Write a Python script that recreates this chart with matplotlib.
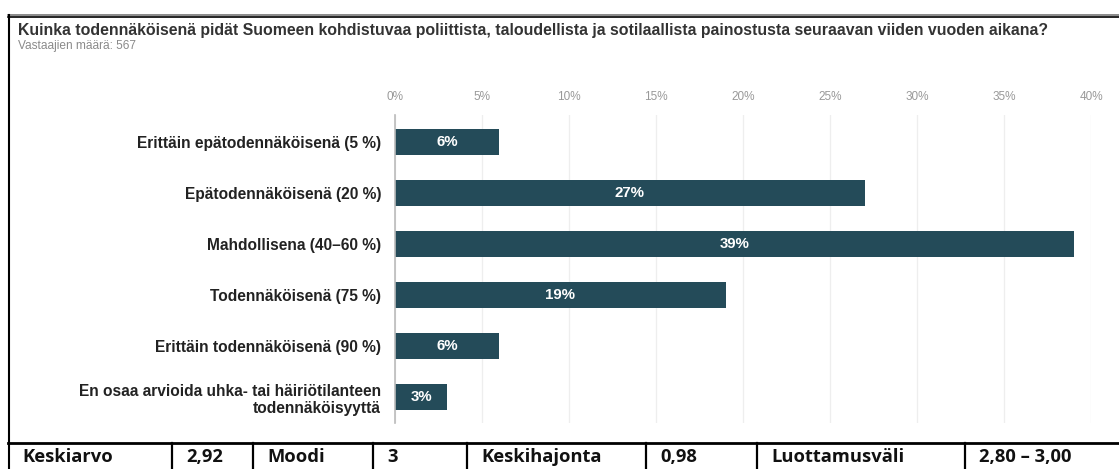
import numpy as np
import matplotlib.pyplot as plt
from matplotlib.lines import Line2D

title = "Kuinka todennäköisenä pidät Suomeen kohdistuvaa poliittista, taloudellista ja sotilaallista painostusta seuraavan viiden vuoden aikana?"
subtitle = "Vastaajien määrä: 567"
categories = ["Erittäin epätodennäköisenä (5 %)",
              "Epätodennäköisenä (20 %)",
              "Mahdollisena (40–60 %)",
              "Todennäköisenä (75 %)",
              "Erittäin todennäköisenä (90 %)",
              "En osaa arvioida uhka- tai häiriötilanteen\ntodennäköisyyttä"]
values = [6, 27, 39, 19, 6, 3]
ticks = [0, 5, 10, 15, 20, 25, 30, 35, 40]
table_cells = ["Keskiarvo", "2,92", "Moodi", "3", "Keskihajonta", "0,98",
               "Luottamusväli", "2,80 – 3,00"]

W, H = 1119, 469
fig = plt.figure(figsize=(W / 100, H / 100), dpi=100)
plt.rcParams['font.family'] = ['Liberation Sans', 'DejaVu Sans']

bar_color = '#244b59'

# main axes placed in pixel coordinates of the reference
x0, x1 = 395, 1091
ytop, ybot = 115, 423
ax = fig.add_axes([x0 / W, 1 - ybot / H, (x1 - x0) / W, (ybot - ytop) / H])
y = np.arange(len(categories))
ax.barh(y, values, height=0.51, color=bar_color)
for yi, v in zip(y, values):
    ax.text(v / 2, yi, f"{v}%", ha='center', va='center', color='white',
            fontsize=10.8, fontweight='bold')
ax.set_xlim(0, 40)
ax.set_ylim(5.5, -0.53)
ax.set_xticks(ticks)
ax.set_xticklabels([f"{t}%" for t in ticks], fontsize=8.5, color='#999999')
ax.xaxis.tick_top()
ax.tick_params(axis='x', length=0, pad=9)
ax.set_yticks(y)
ax.set_yticklabels(categories, fontsize=11.2, fontweight='bold', color='#222222',
                   linespacing=1.15)
ax.tick_params(axis='y', length=0, pad=10)
ax.grid(axis='x', color='#eeeeee', lw=0.9)
ax.set_axisbelow(True)
for s in ['top', 'right', 'bottom']:
    ax.spines[s].set_visible(False)
ax.spines['left'].set_color('#bbbbbb')
ax.spines['left'].set_linewidth(1.2)

# titles
fig.text(18 / W, 1 - 30 / H, title, fontsize=11.4, fontweight='bold',
         color='#333333', va='center', ha='left')
fig.text(18 / W, 1 - 46 / H, subtitle, fontsize=8.6, color='#8a8a8a',
         va='center', ha='left')

# outer frame
def hline(ypx, xa, xb, lw, c='black'):
    fig.add_artist(Line2D([xa / W, xb / W], [1 - ypx / H, 1 - ypx / H],
                          color=c, lw=lw, transform=fig.transFigure))

def vline(xpx, ya, yb, lw, c='black'):
    fig.add_artist(Line2D([xpx / W, xpx / W], [1 - ya / H, 1 - yb / H],
                          color=c, lw=lw, transform=fig.transFigure))

hline(15, 8, W, 1.2, '#777777')
hline(17, 8, W, 1.2)
vline(9, 15, H, 1.5)
hline(443, 8, W, 2.0)

# stats table row
col_edges = [8, 172, 253, 373, 467, 646, 757, 965]
for xe in col_edges[1:]:
    vline(xe, 443, H, 1.6)
for xe, txt in zip(col_edges, table_cells):
    fig.text((xe + 14) / W, 1 - 457 / H, txt, fontsize=13.2, fontweight='bold',
             family='Open Sans', color='#111111', va='center', ha='left')

fig.savefig('out.png', dpi=100)
